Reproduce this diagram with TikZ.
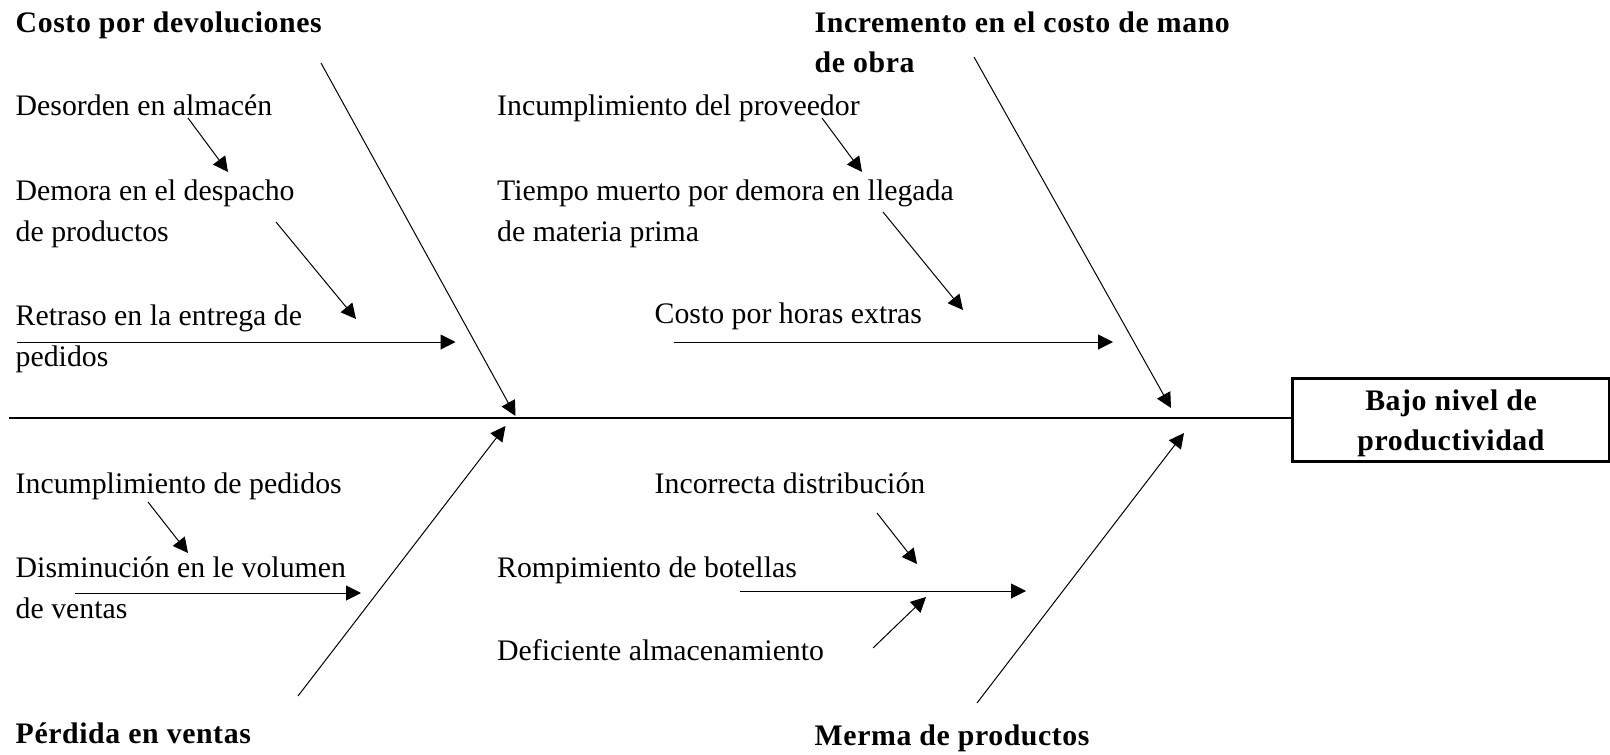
\documentclass[tikz,border=0pt]{standalone}
\usepackage{fontspec}
\setmainfont{Liberation Serif}
\newfontfamily\hdfont[LetterSpace=2]{Liberation Serif}
\usetikzlibrary{arrows.meta}
\begin{document}
\begin{tikzpicture}[x=1pt,y=-1pt,
  lbl/.style={anchor=base west,inner sep=0pt,align=left,font=\fontsize{29.8}{41}\selectfont},
  hd/.style={anchor=base west,inner sep=0pt,align=left,font=\fontsize{29.8}{40}\selectfont\hdfont\bfseries},
  arr/.style={line width=1pt,-{Triangle[length=15pt,width=15pt]}},
  bone/.style={line width=1pt,-{Triangle[length=15pt,width=15pt]}},
  spine/.style={line width=2.7pt},
  effectbox/.style={draw,line width=2.7pt,minimum width=317pt,minimum height=83pt,inner sep=0pt,anchor=north west}]
\useasboundingbox (0,0) rectangle (1610,755);
\fill[white] (0,0) rectangle (1610,755);

% effect (multi-line nodes: base anchor = last line's baseline)
\node[effectbox] (effect) at (1291,377) {};
\node[hd,anchor=base,align=center] (effecttext) at (1451,450) {Bajo nivel de\\productividad};

% spine
\coordinate (spinestart) at (9.3,418);
\draw[spine] (spinestart) -- (effect.west |- spinestart);

% category labels
\node[hd] (c1) at (15.5,32) {Costo por devoluciones};
\node[hd] (c2) at (814.5,72) {Incremento en el costo de mano\\de obra};
\node[hd] (c3) at (15.5,743) {Pérdida en ventas};
\node[hd] (c4) at (814.5,745) {Merma de productos};

% cause labels
\node[lbl] (t1) at (15.5,115) {Desorden en almacén};
\node[lbl] (t2) at (15.5,241) {Demora en el despacho\\de productos};
\node[lbl] (t3) at (15.5,366) {Retraso en la entrega de\\pedidos};
\node[lbl] (t4) at (497,115) {Incumplimiento del proveedor};
\node[lbl] (t5) at (497,241) {Tiempo muerto por demora en llegada\\de materia prima};
\node[lbl] (t6) at (654.5,323) {Costo por horas extras};
\node[lbl] (t7) at (15.5,493) {Incumplimiento de pedidos};
\node[lbl] (t8) at (15.5,618) {Disminución en le volumen\\de ventas};
\node[lbl] (t9) at (654.5,493) {Incorrecta distribución};
\node[lbl] (t10) at (497,577) {Rompimiento de botellas};
\node[lbl] (t11) at (497,660) {Deficiente almacenamiento};

% main bones
\coordinate (b1s) at (321,63);   \coordinate (b1e) at (515.5,416);
\coordinate (b2s) at (974,57);   \coordinate (b2e) at (1171,408);
\coordinate (b3s) at (298,696);  \coordinate (b3e) at (505.5,426);
\coordinate (b4s) at (977,703);  \coordinate (b4e) at (1184,433);
\draw[bone] (b1s) -- (b1e);
\draw[bone] (b2s) -- (b2e);
\draw[bone] (b3s) -- (b3e);
\draw[bone] (b4s) -- (b4e);

% sub arrows
\coordinate (a1s) at (188,118);  \coordinate (a1e) at (228,172);
\coordinate (a2s) at (276,222);  \coordinate (a2e) at (356,319);
\coordinate (a3s) at (16.5,342); \coordinate (a3e) at (455.5,342);
\coordinate (a4s) at (822,118);  \coordinate (a4e) at (862,172);
\coordinate (a5s) at (883,212);  \coordinate (a5e) at (963,310);
\coordinate (a6s) at (674,342);  \coordinate (a6e) at (1113,342);
\coordinate (a7s) at (148,502);  \coordinate (a7e) at (188,553);
\coordinate (a8s) at (75,593);   \coordinate (a8e) at (361,593);
\coordinate (a9s) at (877,513);  \coordinate (a9e) at (917,564);
\coordinate (a10s) at (740,591); \coordinate (a10e) at (1026,591);
\coordinate (a11s) at (873,648); \coordinate (a11e) at (926,597);
\foreach \i in {1,...,11} {\draw[arr] (a\i s) -- (a\i e);}
\end{tikzpicture}
\end{document}
